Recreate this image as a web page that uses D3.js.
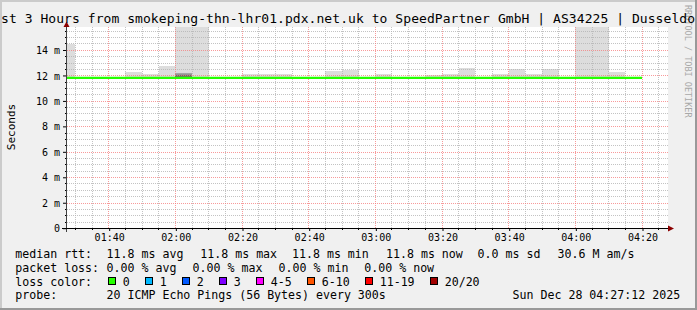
<!DOCTYPE html>
<html><head><meta charset="utf-8">
<script src="https://cdn.jsdelivr.net/npm/d3@7"></script>
<style>
html,body{margin:0;padding:0;background:#f0f0f0;overflow:hidden;}
svg{display:block;}
text{font-family:"DejaVu Sans Mono",monospace;}
</style></head><body>
<svg id="c" width="697" height="310"></svg>
<script>
// ---------- data ----------
const titleText = "st 3 Hours from smokeping-thn-lhr01.pdx.net.uk to SpeedPartner GmbH | AS34225 | Dusseldo";
const yAxisLabel = "Seconds";
const watermark = "RRDTOOL / TOBI OETIKER";
const domainStart = "01:27:30";
const domainEnd = "04:27:30";
const xTickTimes = ["01:40","02:00","02:20","02:40","03:00","03:20","03:40","04:00","04:20"];
const yTickValues = [0,2,4,6,8,10,12,14];
const yTickLabels = ["0","2 m","4 m","6 m","8 m","10 m","12 m","14 m"];
const yMax = 15.83;
// 5-minute slots (smoke = spread of the 20 pings, ms)
const slotTimes = ["01:25","01:30","01:35","01:40","01:45","01:50","01:55","02:00","02:05","02:10",
  "02:15","02:20","02:25","02:30","02:35","02:40","02:45","02:50","02:55","03:00",
  "03:05","03:10","03:15","03:20","03:25","03:30","03:35","03:40","03:45","03:50",
  "03:55","04:00","04:05","04:10","04:15"];
const smokeHi = [14.5,null,null,null,12.28,12.1,12.73,17,17,null,
  null,12.1,12.1,12.1,null,null,12.36,12.44,null,12.15,
  null,null,12.08,12.1,12.57,null,12.1,12.52,12.1,12.52,
  null,17,17,12.28,null];
const smokeLo = 11.75;
const medianRtt = [11.84,11.84,11.84,11.84,11.84,11.84,11.84,11.84,11.84,11.84,
  11.84,11.84,11.84,11.84,11.84,11.84,11.84,11.84,11.84,11.84,
  11.84,11.84,11.84,11.84,11.84,11.84,11.84,11.84,11.84,11.84,
  11.84,11.84,11.84,11.84,11.84];
const medianEnd = "04:20";
const coreSlots = ["02:00"];
const coreMid = [12.1];
const coreLo = [11.9];
const coreHi = [12.22];
const lossLabels = ["0","1","2","3","4-5","6-10","11-19","20/20"];
const lossColors = ["#26ff00","#00b8ff","#0059ff","#7e00ff","#ff00ff","#ff5500","#ff0000","#a10000"];
const rttStats = ["11.8 ms avg","11.8 ms max","11.8 ms min","11.8 ms now","0.0 ms sd","30.6 M am/s"];
const lossStats = ["0.00 % avg","0.00 % max","0.00 % min","0.00 % now"];
const probeText = "20 ICMP Echo Pings (56 Bytes) every 300s";
const stampText = "Sun Dec 28 04:27:12 2025";

// ---------- drawing ----------
const W = 697, H = 310;
const svg = d3.select("#c");
svg.append("rect").attr("width", W).attr("height", H).attr("fill", "#f0f0f0");

const parse = d3.timeParse("%H:%M:%S");
const P = t => parse(t.length === 5 ? t + ":00" : t);
const t0 = P(domainStart), t1 = P(domainEnd);
const L = 67, R = 668, T = 27, B = 228;
const x = d3.scaleTime().domain([t0, t1]).range([67, 667]);
const y = d3.scaleLinear().domain([0, yMax]).range([228.5, 27]);
const cx = v => Math.floor(x(v)) + 0.5;
const cy = v => Math.floor(y(v)) + 0.5;

// canvas
svg.append("rect").attr("x", L).attr("y", T).attr("width", R - L).attr("height", B - T).attr("fill", "#ffffff");
svg.append("clipPath").attr("id", "clip").append("rect")
  .attr("x", L).attr("y", T).attr("width", R - L).attr("height", B - T);
const g = svg.append("g").attr("clip-path", "url(#clip)");

// smoke
const slots = slotTimes.map((s, i) => ({s: P(s), hi: smokeHi[i], med: medianRtt[i]}));
g.selectAll("rect.smoke").data(slots.filter(d => d.hi != null)).join("rect")
  .attr("class", "smoke")
  .attr("x", d => Math.round(x(d3.max([d.s, t0]))))
  .attr("width", d => Math.round(x(d3.timeMinute.offset(d.s, 5))) - Math.round(x(d3.max([d.s, t0]))))
  .attr("y", d => Math.round(y(d.hi)))
  .attr("height", d => Math.round(y(smokeLo)) - Math.round(y(d.hi)))
  .attr("fill", "#dddddd");
const cores = coreSlots.map((s, i) => ({s: P(s), lo: coreLo[i], mid: coreMid[i], hi: coreHi[i]}));
cores.forEach(d => {
  const xa = Math.round(x(d.s)), xb = Math.round(x(d3.timeMinute.offset(d.s, 5)));
  g.append("rect").attr("x", xa).attr("width", xb - xa)
    .attr("y", y(d.hi)).attr("height", y(d.mid) - y(d.hi)).attr("fill", "#a4a4a4");
  g.append("rect").attr("x", xa).attr("width", xb - xa)
    .attr("y", y(d.mid)).attr("height", y(d.lo) - y(d.mid)).attr("fill", "#6c6c6c");
});

// grid
const minorX = d3.timeMinute.every(5).range(t0, t1).filter(t => t.getMinutes() % 20 !== 0);
const majorX = xTickTimes.map(P);
const minorY = d3.range(0.5, yMax, 0.5).filter(v => v % 2 !== 0);
const majorY = yTickValues.filter(v => v > 0);
const minorCol = "rgba(180,180,180,0.8)", majorCol = "rgba(245,120,120,0.75)";
g.selectAll("line.mx").data(minorX).join("line")
  .attr("x1", cx).attr("x2", cx).attr("y1", T).attr("y2", B)
  .attr("stroke", minorCol).attr("stroke-dasharray", "1,1");
g.selectAll("line.my").data(minorY).join("line")
  .attr("x1", L).attr("x2", R).attr("y1", cy).attr("y2", cy)
  .attr("stroke", minorCol).attr("stroke-dasharray", "1,1");
g.selectAll("line.Mx").data(majorX).join("line")
  .attr("x1", cx).attr("x2", cx).attr("y1", T).attr("y2", B)
  .attr("stroke", majorCol).attr("stroke-dasharray", "1,1");
g.selectAll("line.My").data(majorY).join("line")
  .attr("x1", L).attr("x2", R).attr("y1", cy).attr("y2", cy)
  .attr("stroke", majorCol).attr("stroke-dasharray", "1,1");

// median line
const medPts = slots.map(d => [d3.max([d.s, t0]), d.med]);
medPts.push([P(medianEnd), medianRtt[medianRtt.length - 1]]);
g.append("path")
  .attr("d", d3.line().x(d => x(d[0])).y(d => y(d[1])).curve(d3.curveStepAfter)(medPts))
  .attr("fill", "none").attr("stroke", lossColors[0]).attr("stroke-width", 2.2);

// axes
const xAxis = d3.axisBottom(x).tickValues(majorX).tickFormat(d3.timeFormat("%H:%M"))
  .tickSize(3).tickPadding(2.6);
const gx = svg.append("g").attr("transform", `translate(0.5,${B})`).call(xAxis);
gx.select(".domain").remove();
gx.selectAll("line").attr("stroke", "#000");
gx.selectAll("text").attr("font-size", "10px").attr("font-family", "DejaVu Sans Mono").attr("fill", "#000");
svg.selectAll("line.xminor").data(minorX).join("line")
  .attr("x1", cx).attr("x2", cx).attr("y1", B).attr("y2", B + 2).attr("stroke", "#000");

const yAxis = d3.axisLeft(y).tickValues(yTickValues).tickFormat((d, i) => yTickLabels[i])
  .tickSize(4).tickPadding(3);
const gy = svg.append("g").attr("transform", `translate(${L},-0.3)`).call(yAxis);
gy.select(".domain").remove();
gy.selectAll("line").attr("stroke", "#000");
gy.selectAll("text").attr("font-size", "10px").attr("font-family", "DejaVu Sans Mono").attr("fill", "#000").attr("dy", "0.36em");
svg.selectAll("line.yminor").data(minorY).join("line")
  .attr("x1", L - 2).attr("x2", L).attr("y1", cy).attr("y2", cy).attr("stroke", "#000");

// axis lines + arrows
svg.append("line").attr("x1", 66.5).attr("x2", 66.5).attr("y1", 24).attr("y2", 232)
  .attr("stroke", "#404040");
svg.append("line").attr("x1", 62).attr("x2", 670).attr("y1", 228.5).attr("y2", 228.5)
  .attr("stroke", "#000").attr("stroke-width", 1.2);
svg.append("path").attr("d", "M63.5,27 L66.5,21.5 L69.5,27 Z").attr("fill", "#8b0000");
svg.append("path").attr("d", "M668,225.5 L674,228.5 L668,231.5 Z").attr("fill", "#8b0000");

// watermark
svg.append("text").attr("transform", "translate(684.5,5) rotate(90)")
  .attr("font-size", "8.5px").attr("fill", "#a8a8a8").text(watermark);

// title (the visible part of the reference's over-wide title)
svg.append("text").attr("x", 1).attr("y", 23)
  .attr("font-size", "13px").attr("fill", "#000")
  .attr("textLength", 694).attr("lengthAdjust", "spacing").text(titleText);

// y label
svg.append("text").attr("transform", "translate(14.5,127) rotate(-90)")
  .attr("text-anchor", "middle").attr("font-size", "11px").attr("fill", "#000").text(yAxisLabel);

// legend
const lf = "11.6px";
const rows = [258, 271.7, 285.5, 299.2];
const leg = (tx, xx, yy) => svg.append("text").attr("x", xx).attr("y", yy)
  .attr("font-size", lf).attr("fill", "#000").attr("xml:space", "preserve").text(tx);
leg("median rtt:", 15.3, rows[0]);
[106.6, 200.3, 292, 386, 477.6, 557.6].forEach((xx, i) => leg(rttStats[i], xx, rows[0]));
leg("packet loss:", 15.3, rows[1]);
[106.6, 192.6, 278.6, 364.3].forEach((xx, i) => leg(lossStats[i], xx, rows[1]));
leg("loss color:", 15.3, rows[2]);
const boxX = [108.5, 145.5, 182.5, 219.5, 256.5, 307.5, 365.5, 430.5];
boxX.forEach((bx, i) => {
  svg.append("rect").attr("x", bx).attr("y", 277.5).attr("width", 7).attr("height", 7)
    .attr("fill", lossColors[i]).attr("stroke", "#000").attr("stroke-width", 1);
  leg(lossLabels[i], bx + 14.2, rows[2]);
});
leg("probe:", 15.3, rows[3]);
leg(probeText, 106.6, rows[3]);
leg(stampText, 512.6, rows[3]);

// frame shading
svg.append("rect").attr("x", 0).attr("y", 0).attr("width", W).attr("height", 2).attr("fill", "#cbcbcb");
svg.append("rect").attr("x", 0).attr("y", 0).attr("width", 2).attr("height", H).attr("fill", "#cbcbcb");
svg.append("rect").attr("x", 0).attr("y", H - 2).attr("width", W).attr("height", 2).attr("fill", "#999999");
svg.append("rect").attr("x", W - 2).attr("y", 0).attr("width", 2).attr("height", H).attr("fill", "#999999");
</script>
</body></html>
